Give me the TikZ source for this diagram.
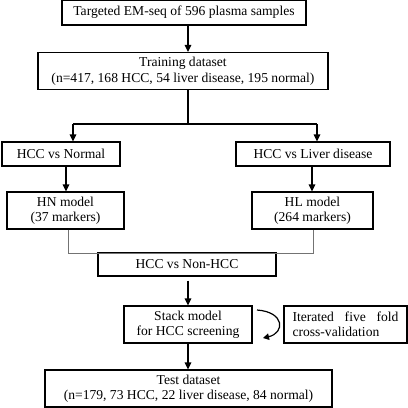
\documentclass[tikz,border=0pt]{standalone}
\usepackage{fontspec}
\setmainfont{Liberation Serif}
\usetikzlibrary{arrows.meta}
\begin{document}
\begin{tikzpicture}[x=1pt,y=-1pt,
  box/.style={draw=black,line width=1.1pt,inner sep=0pt,align=center,font=\fontsize{13.6}{15.5}\selectfont},
  arr/.style={line width=1.2pt,-{Triangle[length=7pt,width=6.5pt]}},
  thin/.style={draw=black!55,line width=0.7pt}]
\useasboundingbox (0,0) rectangle (408,408);
\fill[white] (0,0) rectangle (408,408);
\node[box,minimum width=244pt,minimum height=25pt] (t1) at (184,12.5) {Targeted EM-seq of 596 plasma samples};
\node[box,minimum width=290pt,minimum height=37pt] (t2) at (183,71) {Training dataset\\(n=417, 168 HCC, 54 liver disease, 195 normal)};
\node[box,minimum width=118pt,minimum height=24pt] (hn) at (61,154) {HCC vs Normal};
\node[box,minimum width=154pt,minimum height=24pt] (hl) at (313,154) {HCC vs Liver disease};
\node[box,minimum width=117pt,minimum height=37pt] (hnm) at (65.5,210.5) {HN model\\(37 markers)};
\node[box,minimum width=121pt,minimum height=37pt] (hlm) at (312.5,210.5) {HL model\\(264 markers)};
\node[box,minimum width=178pt,minimum height=23pt] (nh) at (187,264.5) {HCC vs Non-HCC};
\node[box,minimum width=128pt,minimum height=37pt] (st) at (188,324.5) {Stack model\\for HCC screening};
\node[box,minimum width=123pt,minimum height=37pt,text width=106pt,align=left] (it) at (345.5,324.5) {\hbox to 106pt{Iterated\hfill five\hfill fold}\\cross-validation};
\node[box,minimum width=287pt,minimum height=37pt] (ts) at (188.5,388.5) {Test dataset\\(n=179, 73 HCC, 22 liver disease, 84 normal)};
\coordinate (sp) at (188,124);
\coordinate (spl) at (73,124);
\coordinate (spr) at (317,124);
\coordinate (jn) at (68,253);
\coordinate (jl) at (313,253);
\draw[arr] (t1.south -| sp) -- (t2.north -| sp);
\draw[line width=1.2pt] (t2.south -| sp) -- (sp);
\draw[line width=1.2pt] (spl) -- (spr);
\draw[arr] (spl) -- (hn.north -| spl);
\draw[arr] (spr) -- (hl.north -| spr);
\draw[arr] (hn.south -| 66,0) -- (hnm.north -| 66,0);
\draw[arr] (hl.south -| 312,0) -- (hlm.north -| 312,0);
\draw[thin] (hnm.south -| jn) -- (jn) -- (jl) -- (hlm.south -| jl);
\draw[arr] (nh.south -| sp) ++(0,4) -- (st.north -| sp);
\draw[arr] (st.south -| sp) -- (ts.north -| sp);
\coordinate (ca) at (257,310);
\coordinate (cb) at (263,338);
\draw[line width=1.2pt,-{Triangle[length=6pt,width=6.5pt]}] (ca) .. controls (285,312) and (285,333) .. (cb);
\end{tikzpicture}
\end{document}
